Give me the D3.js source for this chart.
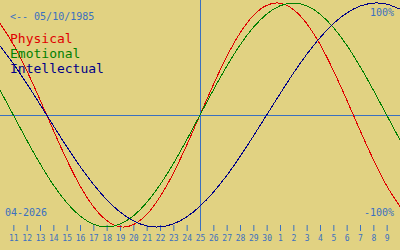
<!DOCTYPE html>
<meta charset="utf-8">

<head>
<style>
body {
  margin: 0;
  background: #e1d282;
}
svg { display: block; }
text { font-family: "DejaVu Sans Mono", monospace; }
</style>
</head>

<script src="https://d3js.org/d3.v7.min.js"></script>

<div id="bio"></div>

<script>

// one value per day, 10 Apr 2026 .. 10 May 2026 (selected day = 25 Apr)
var dates = ["2026-04-10","2026-04-11","2026-04-12","2026-04-13","2026-04-14","2026-04-15",
  "2026-04-16","2026-04-17","2026-04-18","2026-04-19","2026-04-20","2026-04-21","2026-04-22",
  "2026-04-23","2026-04-24","2026-04-25","2026-04-26","2026-04-27","2026-04-28","2026-04-29",
  "2026-04-30","2026-05-01","2026-05-02","2026-05-03","2026-05-04","2026-05-05","2026-05-06",
  "2026-05-07","2026-05-08","2026-05-09","2026-05-10"];

var physical = [0.817, 0.631, 0.398, 0.136, -0.136, -0.398, -0.631, -0.817, -0.942, -0.998,
  -0.979, -0.888, -0.731, -0.520, -0.270, 0, 0.270, 0.520, 0.731, 0.888, 0.979, 0.998, 0.942,
  0.817, 0.631, 0.398, 0.136, -0.136, -0.398, -0.631, -0.817];

var emotional = [0.223, 0, -0.223, -0.434, -0.624, -0.782, -0.901, -0.975, -1, -0.975, -0.901,
  -0.782, -0.624, -0.434, -0.223, 0, 0.223, 0.434, 0.624, 0.782, 0.901, 0.975, 1, 0.975, 0.901,
  0.782, 0.624, 0.434, 0.223, 0, -0.223];

var intellectual = [0.618, 0.458, 0.282, 0.095, -0.095, -0.282, -0.458, -0.618, -0.756, -0.866,
  -0.945, -0.990, -0.999, -0.972, -0.910, -0.815, -0.690, -0.541, -0.372, -0.189, 0, 0.189,
  0.372, 0.541, 0.690, 0.815, 0.910, 0.972, 0.999, 0.990, 0.945];

var tickLabels = ["11","12","13","14","15","16","17","18","19","20","21","22","23","24","25",
  "26","27","28","29","30","1","2","3","4","5","6","7","8","9"];

var series = [
  {name: "Physical", values: physical, color: "#e00000"},
  {name: "Emotional", values: emotional, color: "#008000"},
  {name: "Intellectual", values: intellectual, color: "#000088"}
];

var blue = "#3a70c0";
var width = 400, height = 250;

var parse = d3.timeParse("%Y-%m-%d");
var days = dates.map(parse);

var svg = d3.select("#bio")
  .append("svg")
    .attr("width", width)
    .attr("height", height);

var x = d3.scaleTime()
  .domain(d3.extent(days))
  .range([0, width]);

var y = d3.scaleLinear()
  .domain([-1, 1])
  .range([227, 3]);

// centre lines
svg.append("line")
  .attr("x1", 0).attr("x2", width)
  .attr("y1", y(0) + 0.5).attr("y2", y(0) + 0.5)
  .attr("stroke", blue)
  .attr("shape-rendering", "crispEdges");

svg.append("line")
  .attr("x1", x(days[15]) + 0.5).attr("x2", x(days[15]) + 0.5)
  .attr("y1", 0).attr("y2", 231)
  .attr("stroke", blue)
  .attr("shape-rendering", "crispEdges");

// day axis
var xAxis = svg.append("g")
  .attr("transform", "translate(0,225)")
  .style("color", blue)
  .call(d3.axisBottom(x)
    .tickValues(days.slice(1, 30))
    .tickFormat(function(d, i) { return tickLabels[i]; })
    .tickSize(6)
    .tickPadding(4));
xAxis.select(".domain").remove();
xAxis.selectAll("text")
  .attr("font-size", "8px")
  .attr("font-family", "DejaVu Sans Mono, monospace");

// curves
var line = d3.line()
  .x(function(d, i) { return x(days[i]); })
  .y(function(d) { return y(d); })
  .curve(d3.curveNatural);

svg.selectAll(".curve")
  .data(series)
  .enter()
  .append("path")
    .attr("class", "curve")
    .attr("d", function(d) { return line(d.values); })
    .attr("fill", "none")
    .attr("stroke", function(d) { return d.color; })
    .attr("stroke-width", 1)
    .attr("shape-rendering", "crispEdges");

// labels
svg.append("text")
  .attr("x", 10).attr("y", 20)
  .attr("font-size", "10px")
  .attr("fill", blue)
  .text("<-- 05/10/1985");

svg.append("text")
  .attr("x", 394).attr("y", 16)
  .attr("text-anchor", "end")
  .attr("font-size", "10px")
  .attr("fill", blue)
  .text("100%");

svg.append("text")
  .attr("x", 394).attr("y", 216)
  .attr("text-anchor", "end")
  .attr("font-size", "10px")
  .attr("fill", blue)
  .text("-100%");

svg.append("text")
  .attr("x", 5).attr("y", 216)
  .attr("font-size", "10px")
  .attr("fill", blue)
  .text("04-2026");

svg.selectAll(".legend")
  .data(series)
  .enter()
  .append("text")
    .attr("class", "legend")
    .attr("x", 10)
    .attr("y", function(d, i) { return 43 + i * 15; })
    .attr("font-size", "13px")
    .attr("fill", function(d) { return d.color; })
    .text(function(d) { return d.name; });

</script>
